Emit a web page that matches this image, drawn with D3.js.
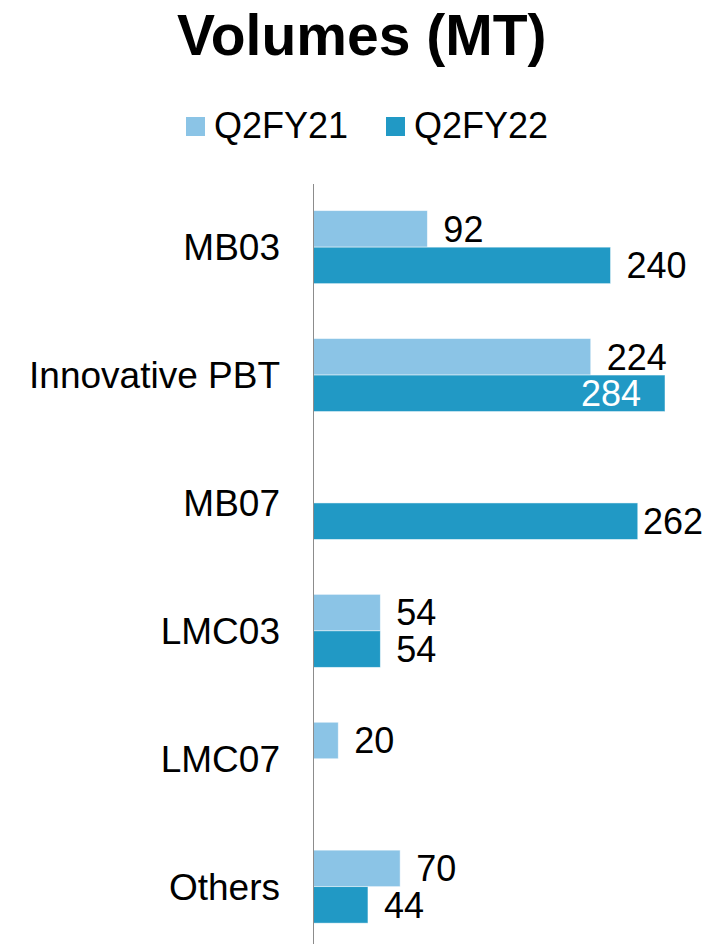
<!DOCTYPE html>
<html>
<head>
<meta charset="utf-8">
<script src="https://cdn.jsdelivr.net/npm/d3@7"></script>
<style>
  html, body { margin: 0; padding: 0; background: #fff; }
  svg { display: block; }
  text { font-family: "Liberation Sans", Arial, sans-serif; }
</style>
</head>
<body>
<svg id="chart" width="707" height="944"></svg>
<script>
const categories = ["MB03", "Innovative PBT", "MB07", "LMC03", "LMC07", "Others"];
const seriesNames = ["Q2FY21", "Q2FY22"];
const q2fy21 = [92, 224, null, 54, 20, 70];
const q2fy22 = [240, 284, 262, 54, null, 44];
const colors = ["#8BC4E6", "#2199C5"];
const titleText = "Volumes (MT)";

const W = 707, H = 944;
const svg = d3.select("#chart");
const seriesValues = [q2fy21, q2fy22];

const x = d3.scaleLinear()
  .domain([0, d3.max(seriesValues.flat())])
  .range([313.5, 665]);

const y = d3.scaleBand()
  .domain(categories)
  .range([183.2, 950.6])
  .padding(0);

const barH = 36.5;
const bw = y.bandwidth();
const ySub = d3.scaleBand()
  .domain(seriesNames)
  .range([bw / 2 - barH, bw / 2 + barH])
  .padding(0);

// Title
svg.append("text")
  .attr("x", 177)
  .attr("y", 55)
  .attr("font-size", 57)
  .attr("font-weight", "bold")
  .attr("fill", "#000")
  .text(titleText);

// Legend
const legendX = [186, 386];
seriesNames.forEach((s, i) => {
  const g = svg.append("g").attr("transform", `translate(${legendX[i]},0)`);
  g.append("rect").attr("x", 0).attr("y", 117).attr("width", 19).attr("height", 19).attr("fill", colors[i]);
  g.append("text").attr("x", 28).attr("y", 137.5).attr("font-size", 36).attr("fill", "#000").text(s);
});

// Bars
const fs = 36;
seriesNames.forEach((s, si) => {
  const vals = seriesValues[si];
  const data = categories.map((c, i) => ({ c, v: vals[i] })).filter(d => d.v != null);
  const g = svg.append("g");
  g.selectAll("rect")
    .data(data)
    .join("rect")
    .attr("x", x(0))
    .attr("y", d => y(d.c) + ySub(s))
    .attr("width", d => x(d.v) - x(0))
    .attr("height", ySub.bandwidth())
    .attr("fill", colors[si])
    .attr("stroke", "rgba(255,255,255,0.6)")
    .attr("stroke-width", 0.8);

  g.selectAll("text")
    .data(data)
    .join("text")
    .attr("font-size", fs)
    .attr("y", d => y(d.c) + ySub(s) + ySub.bandwidth() / 2 + fs * 0.358)
    .text(d => d.v)
    .each(function (d) {
      const t = d3.select(this);
      const w = this.getComputedTextLength();
      const end = x(d.v);
      let lx = end + 16;
      if (lx + w > W - 4) lx = W - 4 - w;
      if (lx < end) {
        t.attr("x", end - 24).attr("text-anchor", "end").attr("fill", "#fff");
      } else {
        t.attr("x", lx).attr("fill", "#000");
      }
    });
});

// Axis line (category axis)
const yAxis = d3.axisLeft(y).tickSize(0).tickFormat(() => "");
const ax = svg.append("g").attr("transform", `translate(${x(0)},0)`).call(yAxis);
ax.select(".domain").attr("stroke", "#8c8c8c").attr("stroke-width", 1)
  .attr("d", `M0,184V${H}`);

// Category labels
svg.append("g").selectAll("text")
  .data(categories)
  .join("text")
  .attr("x", 280)
  .attr("y", d => y(d) + bw / 2 + 37 * 0.358)
  .attr("text-anchor", "end")
  .attr("font-size", 37)
  .attr("fill", "#000")
  .text(d => d);
</script>
</body>
</html>
